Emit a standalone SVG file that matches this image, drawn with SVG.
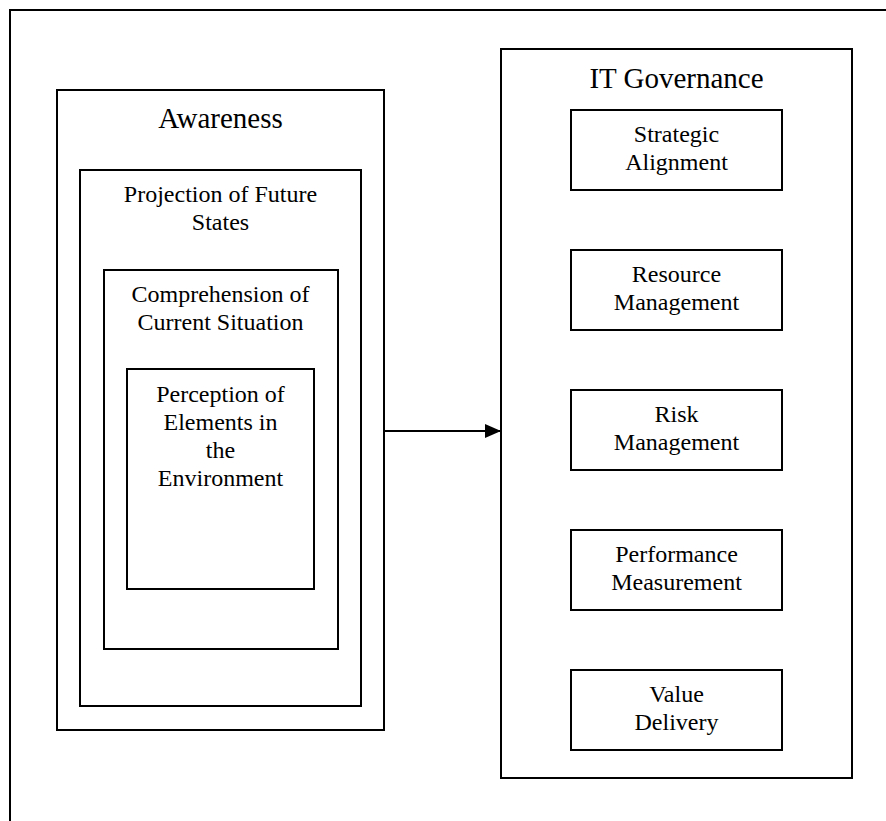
<svg xmlns="http://www.w3.org/2000/svg" width="886" height="821" viewBox="0 0 886 821">
<style>
.box{fill:none;stroke:#000;stroke-width:2}
.t{font-family:"Liberation Serif","Times New Roman",serif;fill:#000;text-anchor:middle}
.big{font-size:29px}
.sm{font-size:24px}
.con{fill:none;stroke:#000;stroke-width:2}
</style>
<defs>
<marker id="ah" markerUnits="userSpaceOnUse" markerWidth="16" markerHeight="14" refX="16" refY="7" orient="auto">
<polygon points="0,0 16,7 0,14" fill="#000"/>
</marker>
</defs>
<rect width="886" height="821" fill="#fff"/>
<path id="frame" class="box" d="M10,821 V10 H886"/>
<g id="awareness">
<rect class="box" x="57" y="90" width="327" height="640"/>
<text class="t big" x="220.5" y="128">Awareness</text>
</g>
<g id="projection">
<rect class="box" x="80" y="170" width="281" height="536"/>
<text class="t sm" x="220.5" y="202">Projection of Future</text>
<text class="t sm" x="220.5" y="230">States</text>
</g>
<g id="comprehension">
<rect class="box" x="104" y="270" width="234" height="379"/>
<text class="t sm" x="220.5" y="302">Comprehension of</text>
<text class="t sm" x="220.5" y="330">Current Situation</text>
</g>
<g id="perception">
<rect class="box" x="127" y="369" width="187" height="220"/>
<text class="t sm" x="220.5" y="402">Perception of</text>
<text class="t sm" x="220.5" y="430">Elements in</text>
<text class="t sm" x="220.5" y="458">the</text>
<text class="t sm" x="220.5" y="486">Environment</text>
</g>
<g id="itgov">
<rect class="box" x="501" y="49" width="351" height="729"/>
<text class="t big" x="676.5" y="88">IT Governance</text>
</g>
<g id="strategic">
<rect class="box" x="571" y="110" width="211" height="80"/>
<text class="t sm" x="676.5" y="142">Strategic</text>
<text class="t sm" x="676.5" y="170">Alignment</text>
</g>
<g id="resource">
<rect class="box" x="571" y="250" width="211" height="80"/>
<text class="t sm" x="676.5" y="282">Resource</text>
<text class="t sm" x="676.5" y="310">Management</text>
</g>
<g id="risk">
<rect class="box" x="571" y="390" width="211" height="80"/>
<text class="t sm" x="676.5" y="422">Risk</text>
<text class="t sm" x="676.5" y="450">Management</text>
</g>
<g id="performance">
<rect class="box" x="571" y="530" width="211" height="80"/>
<text class="t sm" x="676.5" y="562">Performance</text>
<text class="t sm" x="676.5" y="590">Measurement</text>
</g>
<g id="value">
<rect class="box" x="571" y="670" width="211" height="80"/>
<text class="t sm" x="676.5" y="702">Value</text>
<text class="t sm" x="676.5" y="730">Delivery</text>
</g>
<g id="connectors">
<line class="con" x1="384" y1="431" x2="501" y2="431" marker-end="url(#ah)"/>
</g>
</svg>
